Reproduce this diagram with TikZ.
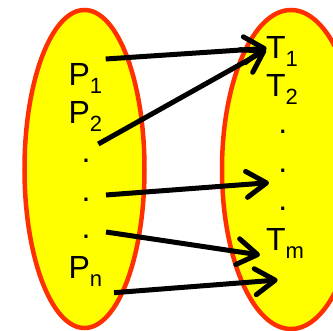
\documentclass[tikz,border=0pt]{standalone}
\usepackage{fontspec}
\setmainfont{Liberation Sans}
\usetikzlibrary{arrows.meta, shapes.geometric}
\definecolor{setfill}{RGB}{255, 255, 0}
\definecolor{setborder}{RGB}{255, 48, 0}
\newcommand{\lowsub}[1]{\raisebox{-8pt}{\fontsize{22}{22}\selectfont #1}}
\tikzset{
  setshape/.style={
    ellipse, draw=setborder, fill=setfill, line width=4.5pt,
    inner sep=0pt
  },
  elem/.style={
    anchor=base west, inner sep=0pt, font=\fontsize{32}{32}\selectfont
  },
  dotelem/.style={
    anchor=center, inner sep=0pt, font=\fontsize{32}{32}\selectfont
  },
  maparrow/.style={
    -{Straight Barb[length=20pt, width=26pt, line cap=round, line join=round]},
    line width=5pt
  }
}

\begin{document}
\begin{tikzpicture}[x=1pt, y=-1pt]

  \useasboundingbox (0,0) rectangle (333,331);
  \clip (0,0) rectangle (333,331);

  %% ---- the two sets ----
  \node[setshape, minimum width=120pt, minimum height=318pt] (pset) at (84.5,169) {};
  \node[setshape, minimum width=138pt, minimum height=319pt] (tset) at (291,169.5) {};

  %% ---- left elements ----
  \node[elem] (p1) at (68.3,86) {P\lowsub{1}};
  \node[elem] (p2) at (68.3,123.5) {P\lowsub{2}};
  \node[dotelem] (pd1) at (86,160.7) {.};
  \node[dotelem] (pd2) at (86,200) {.};
  \node[dotelem] (pd3) at (86,237) {.};
  \node[elem] (pn) at (68.3,279) {P\lowsub{n}};

  %% ---- right elements ----
  \node[elem] (t1) at (266,58.3) {T\lowsub{1}};
  \node[elem] (t2) at (266,96.7) {T\lowsub{2}};
  \node[dotelem] (td1) at (282.7,131.7) {.};
  \node[dotelem] (td2) at (282.7,171) {.};
  \node[dotelem] (td3) at (282.7,209) {.};
  \node[elem] (tm) at (266,250.7) {T\lowsub{m}};

  %% ---- arrow ends ----
  \coordinate (a1s) at (105.7,59);
  \coordinate (a1e) at (266.7,48.3);
  \coordinate (a2s) at (98.3,144);
  \coordinate (a2e) at (266,50);
  \coordinate (a3s) at (106,195);
  \coordinate (a3e) at (269,182.7);
  \coordinate (a4s) at (106,232);
  \coordinate (a4e) at (260,255);
  \coordinate (a5s) at (114,292.7);
  \coordinate (a5e) at (277.7,280);

  \draw[maparrow] (a1s) -- (a1e);
  \draw[maparrow] (a2s) -- (a2e);
  \draw[maparrow] (a3s) -- (a3e);
  \draw[maparrow] (a4s) -- (a4e);
  \draw[maparrow] (a5s) -- (a5e);

\end{tikzpicture}
\end{document}
